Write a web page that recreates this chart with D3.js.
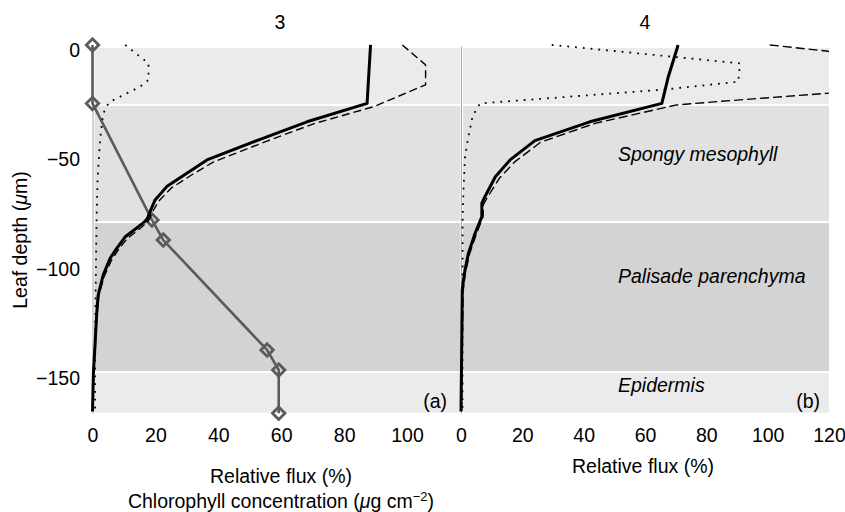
<!DOCTYPE html>
<html>
<head>
<meta charset="utf-8">
<script src="https://cdn.jsdelivr.net/npm/d3@7"></script>
<style>
body { margin: 0; background: #fff; }
svg text { font-family: "Liberation Sans", Arial, Helvetica, sans-serif; font-size: 19.5px; fill: #000; }
</style>
</head>
<body>
<div id="chart"></div>
<script>
// ---- DATA (depth in um, 0 = leaf surface; values in %) ----

var layerTops = [0, -26, -79.5, -148],
    layerBottoms = [-26, -79.5, -148, -167],
    layerNames = ["", "Spongy mesophyll", "Palisade parenchyma", "Epidermis"];

var depthTicks = [0, -50, -100, -150],
    fluxTicksA = [0, 20, 40, 60, 80, 100],
    fluxTicksB = [0, 20, 40, 60, 80, 100, 120];

// panel (a), wavelength 3
var solidA = [[1.4, 88.4], [-25.3, 87.3], [-33.7, 68.2], [-41.7, 53.3], [-51.1, 36.4], [-57.2, 30],
              [-63.3, 23.6], [-69.4, 19.9], [-74, 18.5], [-78.5, 17.3], [-81.6, 14.6], [-86.2, 10.4],
              [-91.5, 7.7], [-96, 5.6], [-103.7, 3.4], [-112.8, 1.8], [-122, 1.3], [-135.6, 0.8],
              [-147.8, 0.3], [-166, 0]];
var dashedA = [[1.4, 98.5], [-7.7, 105.9], [-16.8, 105.9], [-26.8, 89.4], [-34.5, 70.5], [-42.5, 55.5],
               [-52, 38.5], [-58, 31.5], [-64, 25], [-70, 21], [-75, 19], [-79, 17.8], [-82, 15.5],
               [-87, 11], [-92, 8.3], [-97, 6], [-104, 3.8], [-113, 2], [-122, 1.4], [-136, 0.9],
               [-148, 0.4], [-166, 0.1]];
var dottedA = [[1.4, 10.4], [-7, 17.8], [-14.6, 17.8], [-17.7, 15.1], [-24.5, 5.6], [-27.5, 4],
               [-32, 3.2], [-42, 2.4], [-60, 1.6], [-79, 1.3], [-120, 0.9], [-166, 0.8]];
var chlorophyll = [[1.4, 0], [-25.3, 0], [-78.5, 18.9], [-87.7, 22.5], [-137.9, 55.5], [-147, 59.2], [-166.8, 59.2]];

// panel (b), wavelength 4
var solidB = [[1.4, 70.8], [-13.1, 67.6], [-25.3, 65.5], [-33.7, 42], [-42.3, 24.1], [-51.1, 16],
              [-58.8, 11.2], [-67.9, 7.8], [-70.9, 6.8], [-77, 6.8], [-84.6, 4.6], [-93.8, 2.4],
              [-102.9, 1.1], [-110.5, 0.4], [-140, 0.2], [-166, 0]];
var dashedB = [[1.4, 100.7], [-1.4, 119.2], [-7.7, 150], [-16.8, 150], [-20.7, 119.2], [-24.5, 83.4],
               [-26, 70.3], [-34.3, 44], [-43, 26], [-52, 17.5], [-59.5, 12.5], [-68.5, 8.5],
               [-71.5, 7.3], [-77, 7.2], [-85, 5], [-94, 2.8], [-103, 1.4], [-111, 0.7], [-140, 0.4],
               [-166, 0.2]];
var dottedB = [[1.4, 29.6], [-7, 91], [-15.4, 90.4], [-19, 66], [-25.3, 6.2], [-31, 3.8], [-42, 2.2],
               [-50, 1.3], [-65, 0.8], [-80, 0.5], [-166, 0.5]];

// ---- CHART ----

var width = 845, height = 512,
    bandFills = ["#ebebeb", "#e1e1e1", "#d3d3d3", "#ebebeb"],
    font = '"Liberation Sans", Arial, Helvetica, sans-serif',
    fontSize = 19.5;

var svg = d3.select("#chart").append("svg")
    .attr("width", width)
    .attr("height", height);

var yScale = d3.scaleLinear().domain([-167, 0]).range([413.7, 48]);
var xA = d3.scaleLinear().domain([0, 117]).range([92.5, 460.5]);
var xB = d3.scaleLinear().domain([0, 120]).range([461, 829]);

svg.append("clipPath").attr("id", "clipB")
    .append("rect")
    .attr("x", xB(0) - 5).attr("y", 0)
    .attr("width", xB.range()[1] - xB(0) + 5).attr("height", height);

var drawBands = function (x) {
    var g = svg.append("g");
    g.selectAll("rect")
        .data(layerTops)
        .enter()
        .append("rect")
            .attr("x", x(0) + 2)
            .attr("y", function (d, i) { return yScale(d) + (i > 0 ? 1 : 0); })
            .attr("width", x.range()[1] - x(0) - 2)
            .attr("height", function (d, i) { return yScale(layerBottoms[i]) - yScale(d) - (i > 0 ? 2 : 1); })
            .attr("fill", function (d, i) { return bandFills[i]; });
    // thin axis line at zero
    g.append("line")
        .attr("x1", x(0) + 0.5).attr("x2", x(0) + 0.5)
        .attr("y1", yScale(0) - 1.5).attr("y2", yScale(-167))
        .attr("stroke", "#a8a8a8").attr("stroke-width", 1);
};

var addLine = function (g, x, data, style) {
    var line = d3.line()
        .x(function (d) { return x(d[1]); })
        .y(function (d) { return yScale(d[0]); });
    g.append("path")
        .datum(data)
        .attr("d", line)
        .attr("fill", "none")
        .attr("stroke", style.color || "#000")
        .attr("stroke-width", style.width)
        .attr("stroke-dasharray", style.dash || null)
        .attr("stroke-linejoin", "round");
};

var xAxisCall = function (x, ticks) {
    var g = svg.append("g")
        .attr("transform", "translate(0," + yScale(-167) + ")")
        .call(d3.axisBottom(x).tickValues(ticks).tickSize(0).tickPadding(14));
    g.select(".domain").remove();
    g.attr("font-size", fontSize).attr("font-family", font);
};

drawBands(xA);
drawBands(xB);

// panel (a)
var gA = svg.append("g");
addLine(gA, xA, chlorophyll, {color: "#5b5b5b", width: 2.6});
gA.selectAll("path.mark")
    .data(chlorophyll)
    .enter()
    .append("path")
        .attr("class", "mark")
        .attr("d", d3.symbol().type(d3.symbolSquare).size(78))
        .attr("transform", function (d) { return "translate(" + xA(d[1]) + "," + yScale(d[0]) + ") rotate(45)"; })
        .attr("fill", "none")
        .attr("stroke", "#5b5b5b")
        .attr("stroke-width", 2.8);
addLine(gA, xA, dottedA, {width: 1.8, dash: "1.8,6"});
addLine(gA, xA, dashedA, {width: 1.4, dash: "8,4"});
addLine(gA, xA, solidA, {width: 3});

// panel (b)
var gB = svg.append("g").attr("clip-path", "url(#clipB)");
addLine(gB, xB, dottedB, {width: 1.8, dash: "1.8,6"});
addLine(gB, xB, dashedB, {width: 1.4, dash: "9,4"});
addLine(gB, xB, solidB, {width: 3});

// axes
var yAxis = svg.append("g")
    .attr("transform", "translate(" + xA(0) + ",0)")
    .call(d3.axisLeft(yScale).tickValues(depthTicks).tickSize(0).tickPadding(12.5));
yAxis.select(".domain").remove();
yAxis.attr("font-size", fontSize).attr("font-family", font);
yAxis.selectAll("text").attr("dy", "0.42em");

xAxisCall(xA, fluxTicksA);
xAxisCall(xB, fluxTicksB);

// texts
svg.append("text").attr("x", 280).attr("y", 29).attr("text-anchor", "middle").text("3");
svg.append("text").attr("x", 645).attr("y", 29).attr("text-anchor", "middle").text("4");

var yLab = svg.append("text")
    .attr("transform", "translate(27,240) rotate(-90)")
    .attr("text-anchor", "middle");
yLab.append("tspan").text("Leaf depth (");
yLab.append("tspan").attr("font-style", "italic").text("\u03bc");
yLab.append("tspan").text("m)");

svg.append("text").attr("x", 281).attr("y", 483).attr("text-anchor", "middle").text("Relative flux (%)");
var chl = svg.append("text").attr("x", 281).attr("y", 507.5).attr("text-anchor", "middle");
chl.append("tspan").text("Chlorophyll concentration (");
chl.append("tspan").attr("font-style", "italic").text("\u03bc");
chl.append("tspan").text("g cm");
chl.append("tspan").attr("font-size", "13px").attr("dy", "-7").text("\u22122");
chl.append("tspan").attr("dy", "7").text(")");

svg.append("text").attr("x", 643).attr("y", 472.5).attr("text-anchor", "middle").text("Relative flux (%)");

var bandLabelY = [0, 161, 283, 391.5];
svg.selectAll("text.band")
    .data(layerNames.slice(1))
    .enter()
    .append("text")
        .attr("class", "band")
        .attr("x", 618)
        .attr("y", function (d, i) { return bandLabelY[i + 1]; })
        .attr("font-style", "italic")
        .text(function (d) { return d; });

svg.append("text").attr("x", 447).attr("y", 408).attr("text-anchor", "end").text("(a)");
svg.append("text").attr("x", 820).attr("y", 408).attr("text-anchor", "end").text("(b)");
</script>
</body>
</html>
